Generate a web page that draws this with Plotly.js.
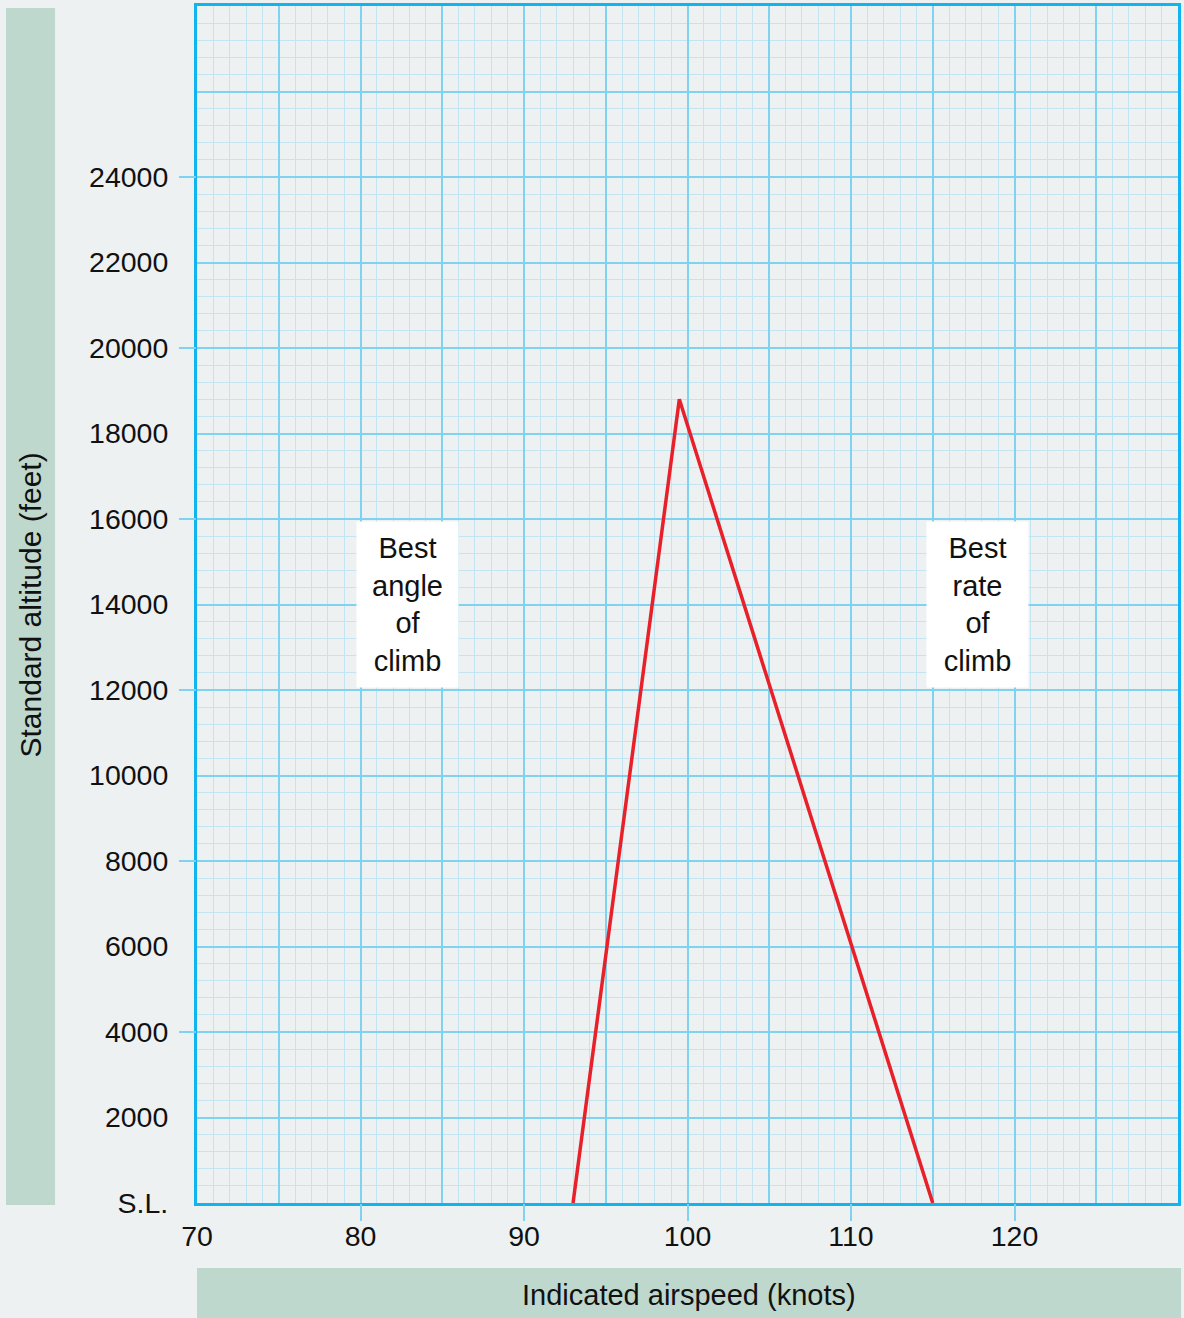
<!DOCTYPE html>
<html>
<head>
<meta charset="utf-8">
<script src="https://cdn.plot.ly/plotly-3.0.1.min.js"></script>
<style>
html,body{margin:0;padding:0;background:#edf1f2;}
#chart{width:1184px;height:1318px;}
</style>
</head>
<body>
<div id="chart"></div>
<script>
// ---- data ----
const airspeed = [93, 99.5, 115];          // knots
const altitude = [0, 18800, 0];            // feet

const yLabelVals = [0, 2000, 4000, 6000, 8000, 10000, 12000, 14000, 16000, 18000, 20000, 22000, 24000, 26000];
const yLabelText = ['S.L.', '2000', '4000', '6000', '8000', '10000', '12000', '14000', '16000', '18000', '20000', '22000', '24000', ''];
const yTickMarks = [4000, 8000, 12000, 16000, 20000, 24000];

const xGridVals = [70, 75, 80, 85, 90, 95, 100, 105, 110, 115, 120, 125, 130];
const xGridText = ['70', '', '80', '', '90', '', '100', '', '110', '', '120', '', ''];
const xTickMarks = [80, 90, 100, 110, 120];

const labelAngle = {x: 82.87, y: 14000, text: 'Best<br>angle<br>of<br>climb'};
const labelRate  = {x: 117.74, y: 14000, text: 'Best<br>rate<br>of<br>climb'};

const xTitle = 'Indicated airspeed (knots)';
const yTitle = 'Standard altitude (feet)';

// ---- styles ----
const FONT = 'Liberation Sans, Arial, Helvetica, sans-serif';
const BG = '#edf1f2';
const MAJOR = '#80d2f1';
const MINOR = '#c3e5f2';
const FRAME = '#12b4ef';
const BAND = '#bfd8ce';
const TXT = '#111';
const XR = [70, 130], YR = [0, 28000];

const traces = [
  {x: airspeed, y: altitude, mode: 'lines', type: 'scatter',
   line: {color: '#e8202a', width: 3.5}, hoverinfo: 'skip', showlegend: false},
  {x: [], y: [], xaxis: 'x2', yaxis: 'y2', type: 'scatter', mode: 'markers',
   showlegend: false, hoverinfo: 'skip'}
];

const layout = {
  width: 1184, height: 1318,
  margin: {l: 197, r: 6, t: 6, b: 115},
  paper_bgcolor: BG, plot_bgcolor: BG,
  font: {family: FONT, size: 29, color: TXT},
  showlegend: false,
  xaxis: {
    range: XR, tickmode: 'array', tickvals: xGridVals, ticktext: xGridText,
    showgrid: true, gridcolor: MAJOR, gridwidth: 2, zeroline: false,
    minor: {dtick: 1, showgrid: true, gridcolor: MINOR, gridwidth: 1},
    ticks: '', showline: true, linecolor: FRAME, linewidth: 3, mirror: true,
    ticklabelstandoff: 6, tickfont: {family: FONT, size: 28.5, color: TXT},
    fixedrange: true
  },
  yaxis: {
    range: YR, tickmode: 'array', tickvals: yLabelVals, ticktext: yLabelText,
    showgrid: true, gridcolor: MAJOR, gridwidth: 2, zeroline: false,
    minor: {dtick: 400, showgrid: true, gridcolor: MINOR, gridwidth: 1},
    ticks: '', showline: true, linecolor: FRAME, linewidth: 3, mirror: true,
    ticklabelstandoff: 20, tickfont: {family: FONT, size: 28.5, color: TXT},
    fixedrange: true
  },
  xaxis2: {
    range: XR, overlaying: 'x', anchor: 'y2', side: 'bottom',
    tickmode: 'array', tickvals: xTickMarks, ticks: 'outside', ticklen: 17,
    tickwidth: 2, tickcolor: MAJOR, showticklabels: false, showgrid: false,
    zeroline: false, showline: false, fixedrange: true
  },
  yaxis2: {
    range: YR, overlaying: 'y', anchor: 'x2', side: 'left',
    tickmode: 'array', tickvals: yTickMarks, ticks: 'outside', ticklen: 17,
    tickwidth: 2, tickcolor: MAJOR, showticklabels: false, showgrid: false,
    zeroline: false, showline: false, fixedrange: true
  },
  shapes: [
    {type: 'rect', xref: 'paper', yref: 'paper', x0: -0.1947, x1: -0.1447, y0: -0.0017, y1: 0.9983,
     fillcolor: BAND, line: {width: 0}, layer: 'below'},
    {type: 'rect', xref: 'paper', yref: 'paper', x0: 0, x1: 1.0031, y0: -0.0961, y1: -0.0543,
     fillcolor: BAND, line: {width: 0}, layer: 'below'}
  ],
  annotations: [
    {x: labelAngle.x, y: labelAngle.y, xref: 'x', yref: 'y', text: labelAngle.text, showarrow: false,
     bgcolor: '#ffffff', width: 99, height: 163, align: 'center', valign: 'middle',
     xanchor: 'center', yanchor: 'middle',
     font: {family: FONT, size: 29, color: TXT}},
    {x: labelRate.x, y: labelRate.y, xref: 'x', yref: 'y', text: labelRate.text, showarrow: false,
     bgcolor: '#ffffff', width: 99, height: 163, align: 'center', valign: 'middle',
     xanchor: 'center', yanchor: 'middle',
     font: {family: FONT, size: 29, color: TXT}},
    {x: 0.5015, y: -0.0769, xref: 'paper', yref: 'paper', text: xTitle, showarrow: false,
     xanchor: 'center', yanchor: 'middle',
     font: {family: FONT, size: 29, color: TXT}},
    {x: -0.1697, y: 0.4996, xref: 'paper', yref: 'paper', text: yTitle, showarrow: false,
     xanchor: 'center', yanchor: 'middle',
     textangle: -90, font: {family: FONT, size: 30, color: TXT}}
  ]
};

Plotly.newPlot('chart', traces, layout, {displayModeBar: false, staticPlot: true});
</script>
</body>
</html>
